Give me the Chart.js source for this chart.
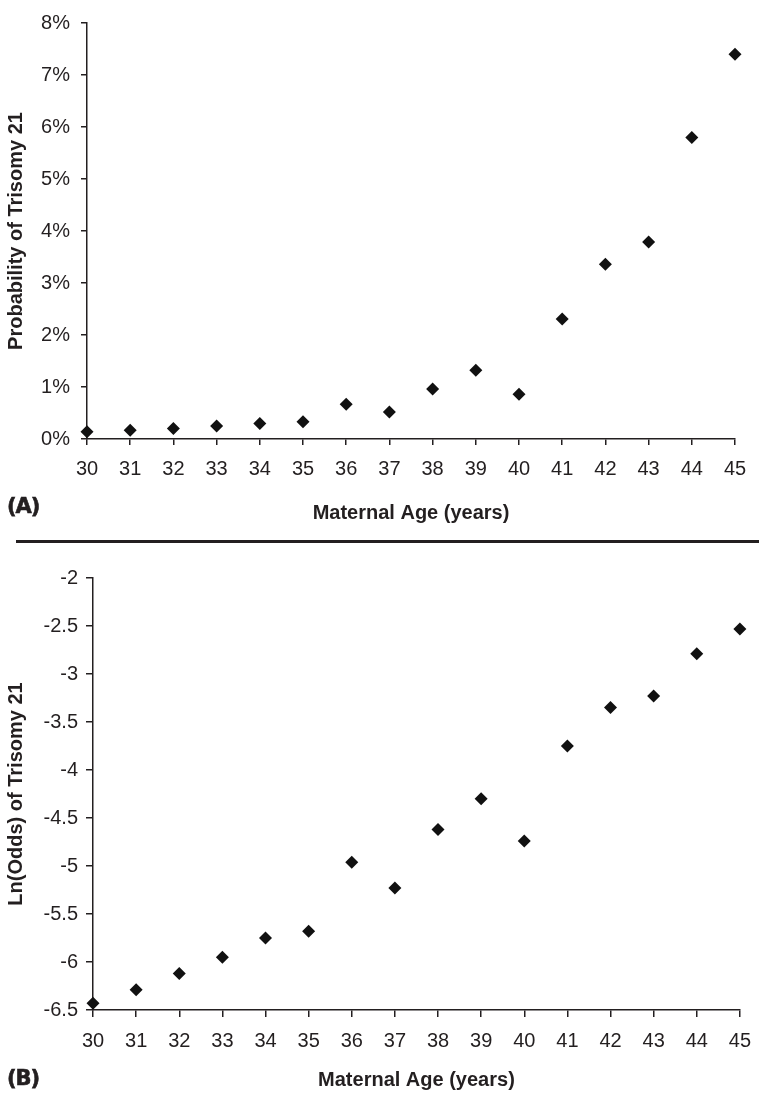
<!DOCTYPE html>
<html>
<head>
<meta charset="utf-8">
<script src="https://cdn.jsdelivr.net/npm/chart.js@4"></script>
<style>
  body { margin: 0; background: #fff; }
  .wrap { position: relative; width: 763px; height: 1093px; }
  .box { position: absolute; left: 0; width: 763px; }
  .panel { position: absolute; left: 7px; font-family: "DejaVu Sans", sans-serif; font-weight: 900; font-size: 21px; color: #231f20; -webkit-text-stroke: 0.6px #231f20; letter-spacing: -1px; }
  .rule { position: absolute; left: 16px; width: 743px; top: 540px; height: 3px; background: #231f20; }
</style>
</head>
<body>
<div class="wrap">
  <div class="box" style="top:0;height:530px"><canvas id="chart_1"></canvas></div>
  <div class="panel" style="top:494px">(A)</div>
  <div class="rule"></div>
  <div class="box" style="top:546px;height:547px"><canvas id="chart_2"></canvas></div>
  <div class="panel" style="top:1066px">(B)</div>
</div>
<script>
const first = document.getElementById("chart_1");
const second = document.getElementById("chart_2");

// maternal age, years
const ages = [30, 31, 32, 33, 34, 35, 36, 37, 38, 39, 40, 41, 42, 43, 44, 45];
// probability of trisomy 21, percent
const probability = [0.14, 0.17, 0.20, 0.25, 0.30, 0.33, 0.67, 0.52, 0.96, 1.32, 0.86, 2.31, 3.36, 3.79, 5.80, 7.40];
// ln(odds) of trisomy 21
const lnOdds = [-6.43, -6.29, -6.12, -5.95, -5.75, -5.68, -4.96, -5.23, -4.62, -4.30, -4.74, -3.75, -3.35, -3.23, -2.79, -2.53];

const ink = '#231f20';
const tickFont = { family: 'Liberation Sans, Arial, sans-serif', size: 20 };
const titleFont = { family: 'Liberation Sans, Arial, sans-serif', size: 20, weight: 'bold' };

function points(ys) {
    return ages.map((a, i) => ({ x: a, y: ys[i] }));
}

function makeChart(canvas, values, opts) {
    return new Chart(canvas, {
        type: 'scatter',
        data: {
            datasets: [{
                data: points(values),
                clip: false,
                pointStyle: 'rectRot',
                pointRadius: 6.5,
                pointHoverRadius: 6.5,
                backgroundColor: '#111',
                borderColor: '#111',
                borderWidth: 0
            }]
        },
        options: {
            responsive: true,
            maintainAspectRatio: false,
            animation: false,
            layout: { padding: opts.padding },
            plugins: { legend: { display: false }, tooltip: { enabled: false } },
            scales: {
                x: {
                    type: 'linear',
                    min: 30,
                    max: 45,
                    afterFit: (s) => { s.height = opts.xHeight; },
                    border: { display: true, color: ink, width: 1.5 },
                    grid: { drawOnChartArea: false, drawTicks: true, tickLength: opts.tick, color: ink, lineWidth: 1.5 },
                    ticks: { stepSize: 1, color: ink, font: tickFont, padding: 12, maxRotation: 0 },
                    title: { display: true, text: 'Maternal Age (years)', color: ink, font: titleFont, padding: { top: 0, bottom: opts.titlePad } }
                },
                y: {
                    min: opts.min,
                    max: opts.max,
                    afterFit: (s) => { s.width = opts.yWidth; },
                    border: { display: true, color: ink, width: 1.5 },
                    grid: { drawOnChartArea: false, drawTicks: true, tickLength: opts.tick, color: ink, lineWidth: 1.5 },
                    ticks: { stepSize: opts.step, color: ink, font: tickFont, padding: opts.tickPad, callback: opts.fmt },
                    title: { display: true, text: opts.yTitle, color: ink, font: titleFont, padding: { top: 4, bottom: 0 } }
                }
            }
        }
    });
}

makeChart(first, probability, {
    padding: { top: 14, right: 28, bottom: 0, left: 0 },
    xHeight: 91, yWidth: 87, tick: 6, tickPad: 11, titlePad: 5,
    min: 0, max: 8, step: 1,
    fmt: (v) => v + '%',
    yTitle: 'Probability of Trisomy 21'
});

makeChart(second, lnOdds, {
    padding: { top: 32, right: 11, bottom: 0, left: 0 },
    xHeight: 83, yWidth: 93, tick: 7, tickPad: 8, titlePad: 1,
    min: -6.5, max: -2, step: 0.5,
    fmt: (v) => String(v),
    yTitle: 'Ln(Odds) of Trisomy 21'
});
</script>
</body>
</html>
